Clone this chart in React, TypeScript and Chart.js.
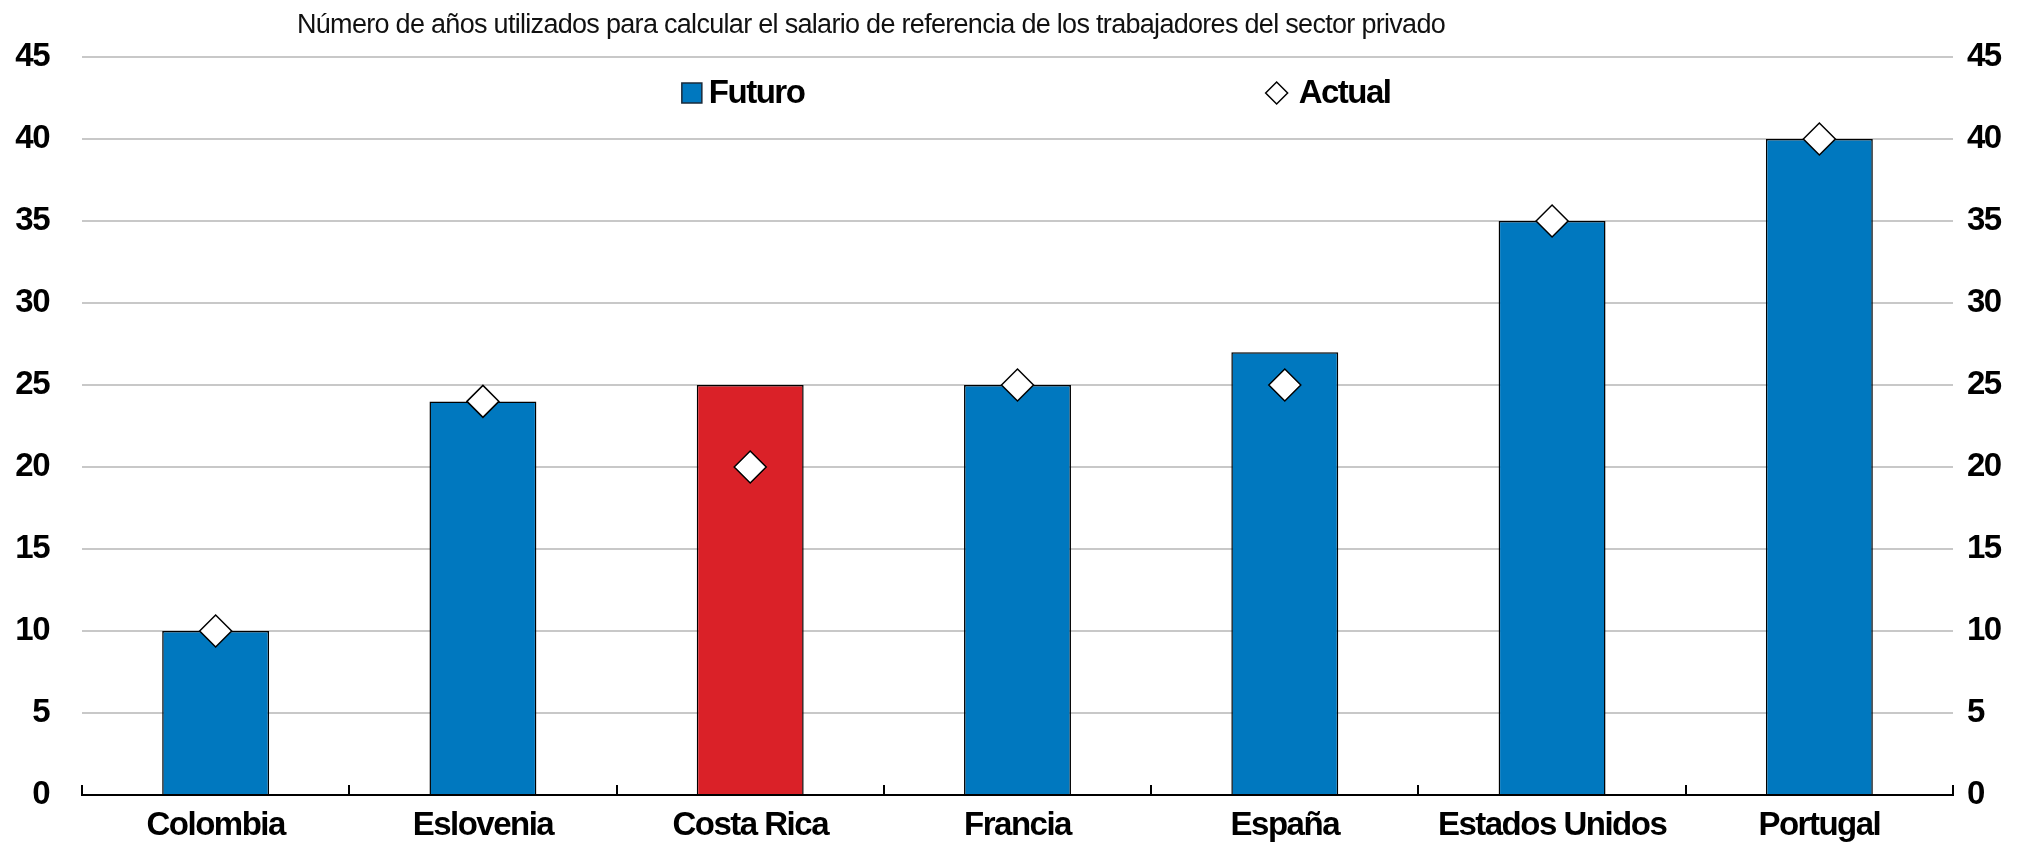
import React, { useEffect, useRef } from "react";
import { Chart, registerables } from "chart.js";

Chart.register(...registerables);

const categories = ["Colombia", "Eslovenia", "Costa Rica", "Francia", "España", "Estados Unidos", "Portugal"];
const futuro = [10, 24, 25, 25, 27, 35, 40];
const actual = [10, 24, 20, 25, 25, 35, 40];
const barColors = ["#0078BF", "#0078BF", "#DA2128", "#0078BF", "#0078BF", "#0078BF", "#0078BF"];
const titleText = "Número de años utilizados para calcular el salario de referencia de los trabajadores del sector privado";
const seriesNames = ["Futuro", "Actual"];
const yMin = 0;
const yMax = 45;
const yStep = 5;

const FONT = "'Liberation Sans Narrow', 'Arial Narrow', 'Liberation Sans', Arial, sans-serif";
const LABEL_SIZE = 33;
const LABEL_SPACING = "-1.5px";

const overlayPlugin = {
  id: "overlay",
  beforeDraw(chart: any) {
    // slightly condense the bold labels to imitate a narrow typeface
    (chart.ctx as any).letterSpacing = LABEL_SPACING;
  },
  afterDraw(chart: any) {
    const ctx = chart.ctx as any;
    const ca = chart.chartArea;
    const w = ca.right - ca.left;
    ctx.save();
    // title, condensed to span its width in the reference
    const targetW = 0.6134 * w;
    ctx.letterSpacing = "0px";
    ctx.font = `27px ${FONT}`;
    const m = ctx.measureText(titleText).width;
    const sp = (targetW - m) / titleText.length;
    ctx.letterSpacing = `${sp.toFixed(2)}px`;
    ctx.fillStyle = "#111";
    ctx.textAlign = "left";
    ctx.textBaseline = "alphabetic";
    ctx.fillText(titleText, ca.left + 0.1149 * w, 33);
    // legend
    const ly = ca.top + 36;
    const fx = ca.left + 0.3206 * w;
    ctx.letterSpacing = LABEL_SPACING;
    ctx.fillStyle = "#0078BF";
    ctx.strokeStyle = "#1a2a3a";
    ctx.lineWidth = 1.5;
    ctx.fillRect(fx, ly - 10, 20, 20);
    ctx.strokeRect(fx, ly - 10, 20, 20);
    ctx.font = `bold ${LABEL_SIZE}px ${FONT}`;
    ctx.fillStyle = "#000";
    ctx.textBaseline = "middle";
    ctx.fillText(seriesNames[0], fx + 27, ly + 1);
    const ax = ca.left + 0.6385 * w;
    ctx.beginPath();
    ctx.moveTo(ax - 11, ly);
    ctx.lineTo(ax, ly - 11);
    ctx.lineTo(ax + 11, ly);
    ctx.lineTo(ax, ly + 11);
    ctx.closePath();
    ctx.fillStyle = "#fff";
    ctx.fill();
    ctx.strokeStyle = "#000";
    ctx.lineWidth = 1.5;
    ctx.stroke();
    ctx.fillStyle = "#000";
    ctx.fillText(seriesNames[1], ax + 22, ly + 1);
    ctx.restore();
    ctx.letterSpacing = "0px";
  },
};

export default function App() {
  const ref = useRef<HTMLCanvasElement | null>(null);
  useEffect(() => {
    if (!ref.current) return;
    const chart = new Chart(ref.current, {
      type: "bar",
      data: {
        labels: categories,
        datasets: [
          {
            type: "bar",
            label: seriesNames[0],
            data: futuro,
            backgroundColor: barColors,
            borderColor: "#000",
            borderWidth: 1.5,
            barPercentage: 0.4,
            categoryPercentage: 1,
            order: 2,
          },
          {
            type: "line",
            label: seriesNames[1],
            data: actual,
            showLine: false,
            pointStyle: "rectRot",
            pointRadius: 16,
            pointBackgroundColor: "#fff",
            pointBorderColor: "#000",
            pointBorderWidth: 1.5,
            order: 1,
          } as any,
        ],
      },
      options: {
        animation: false,
        responsive: true,
        maintainAspectRatio: false,
        layout: { padding: { top: 57, left: 0, right: 0, bottom: 0 } },
        plugins: {
          legend: { display: false },
          title: { display: false },
          tooltip: { enabled: false },
        },
        scales: {
          x: {
            position: "bottom",
            offset: true,
            grid: {
              display: true,
              offset: true,
              drawOnChartArea: false,
              drawTicks: true,
              tickLength: -10,
              color: "#000",
              lineWidth: 2,
            },
            border: { display: true, color: "#000", width: 2 },
            ticks: {
              color: "#000",
              font: { family: FONT, size: LABEL_SIZE, weight: "bold" },
              padding: 21,
              maxRotation: 0,
              autoSkip: false,
            },
            afterFit: (s: any) => {
              s.height = 54;
            },
          },
          y: {
            position: "left",
            min: yMin,
            max: yMax,
            grid: { color: "#C8C8C8", lineWidth: 2, drawTicks: false },
            border: { display: false },
            ticks: {
              stepSize: yStep,
              color: "#000",
              font: { family: FONT, size: LABEL_SIZE, weight: "bold" },
              padding: 33,
            },
            afterFit: (s: any) => {
              s.width = 82;
            },
          },
          y2: {
            position: "right",
            min: yMin,
            max: yMax,
            grid: { display: false, drawTicks: false },
            border: { display: false },
            ticks: {
              stepSize: yStep,
              color: "#000",
              font: { family: FONT, size: LABEL_SIZE, weight: "bold" },
              padding: 14,
            },
            afterFit: (s: any) => {
              s.width = 73;
            },
          },
        },
      },
      plugins: [overlayPlugin],
    });
    return () => chart.destroy();
  }, []);
  return (
    <div style={{ position: "fixed", left: 0, top: 0, width: 2026, height: 849, background: "#fff" }}>
      <canvas ref={ref} />
    </div>
  );
}
